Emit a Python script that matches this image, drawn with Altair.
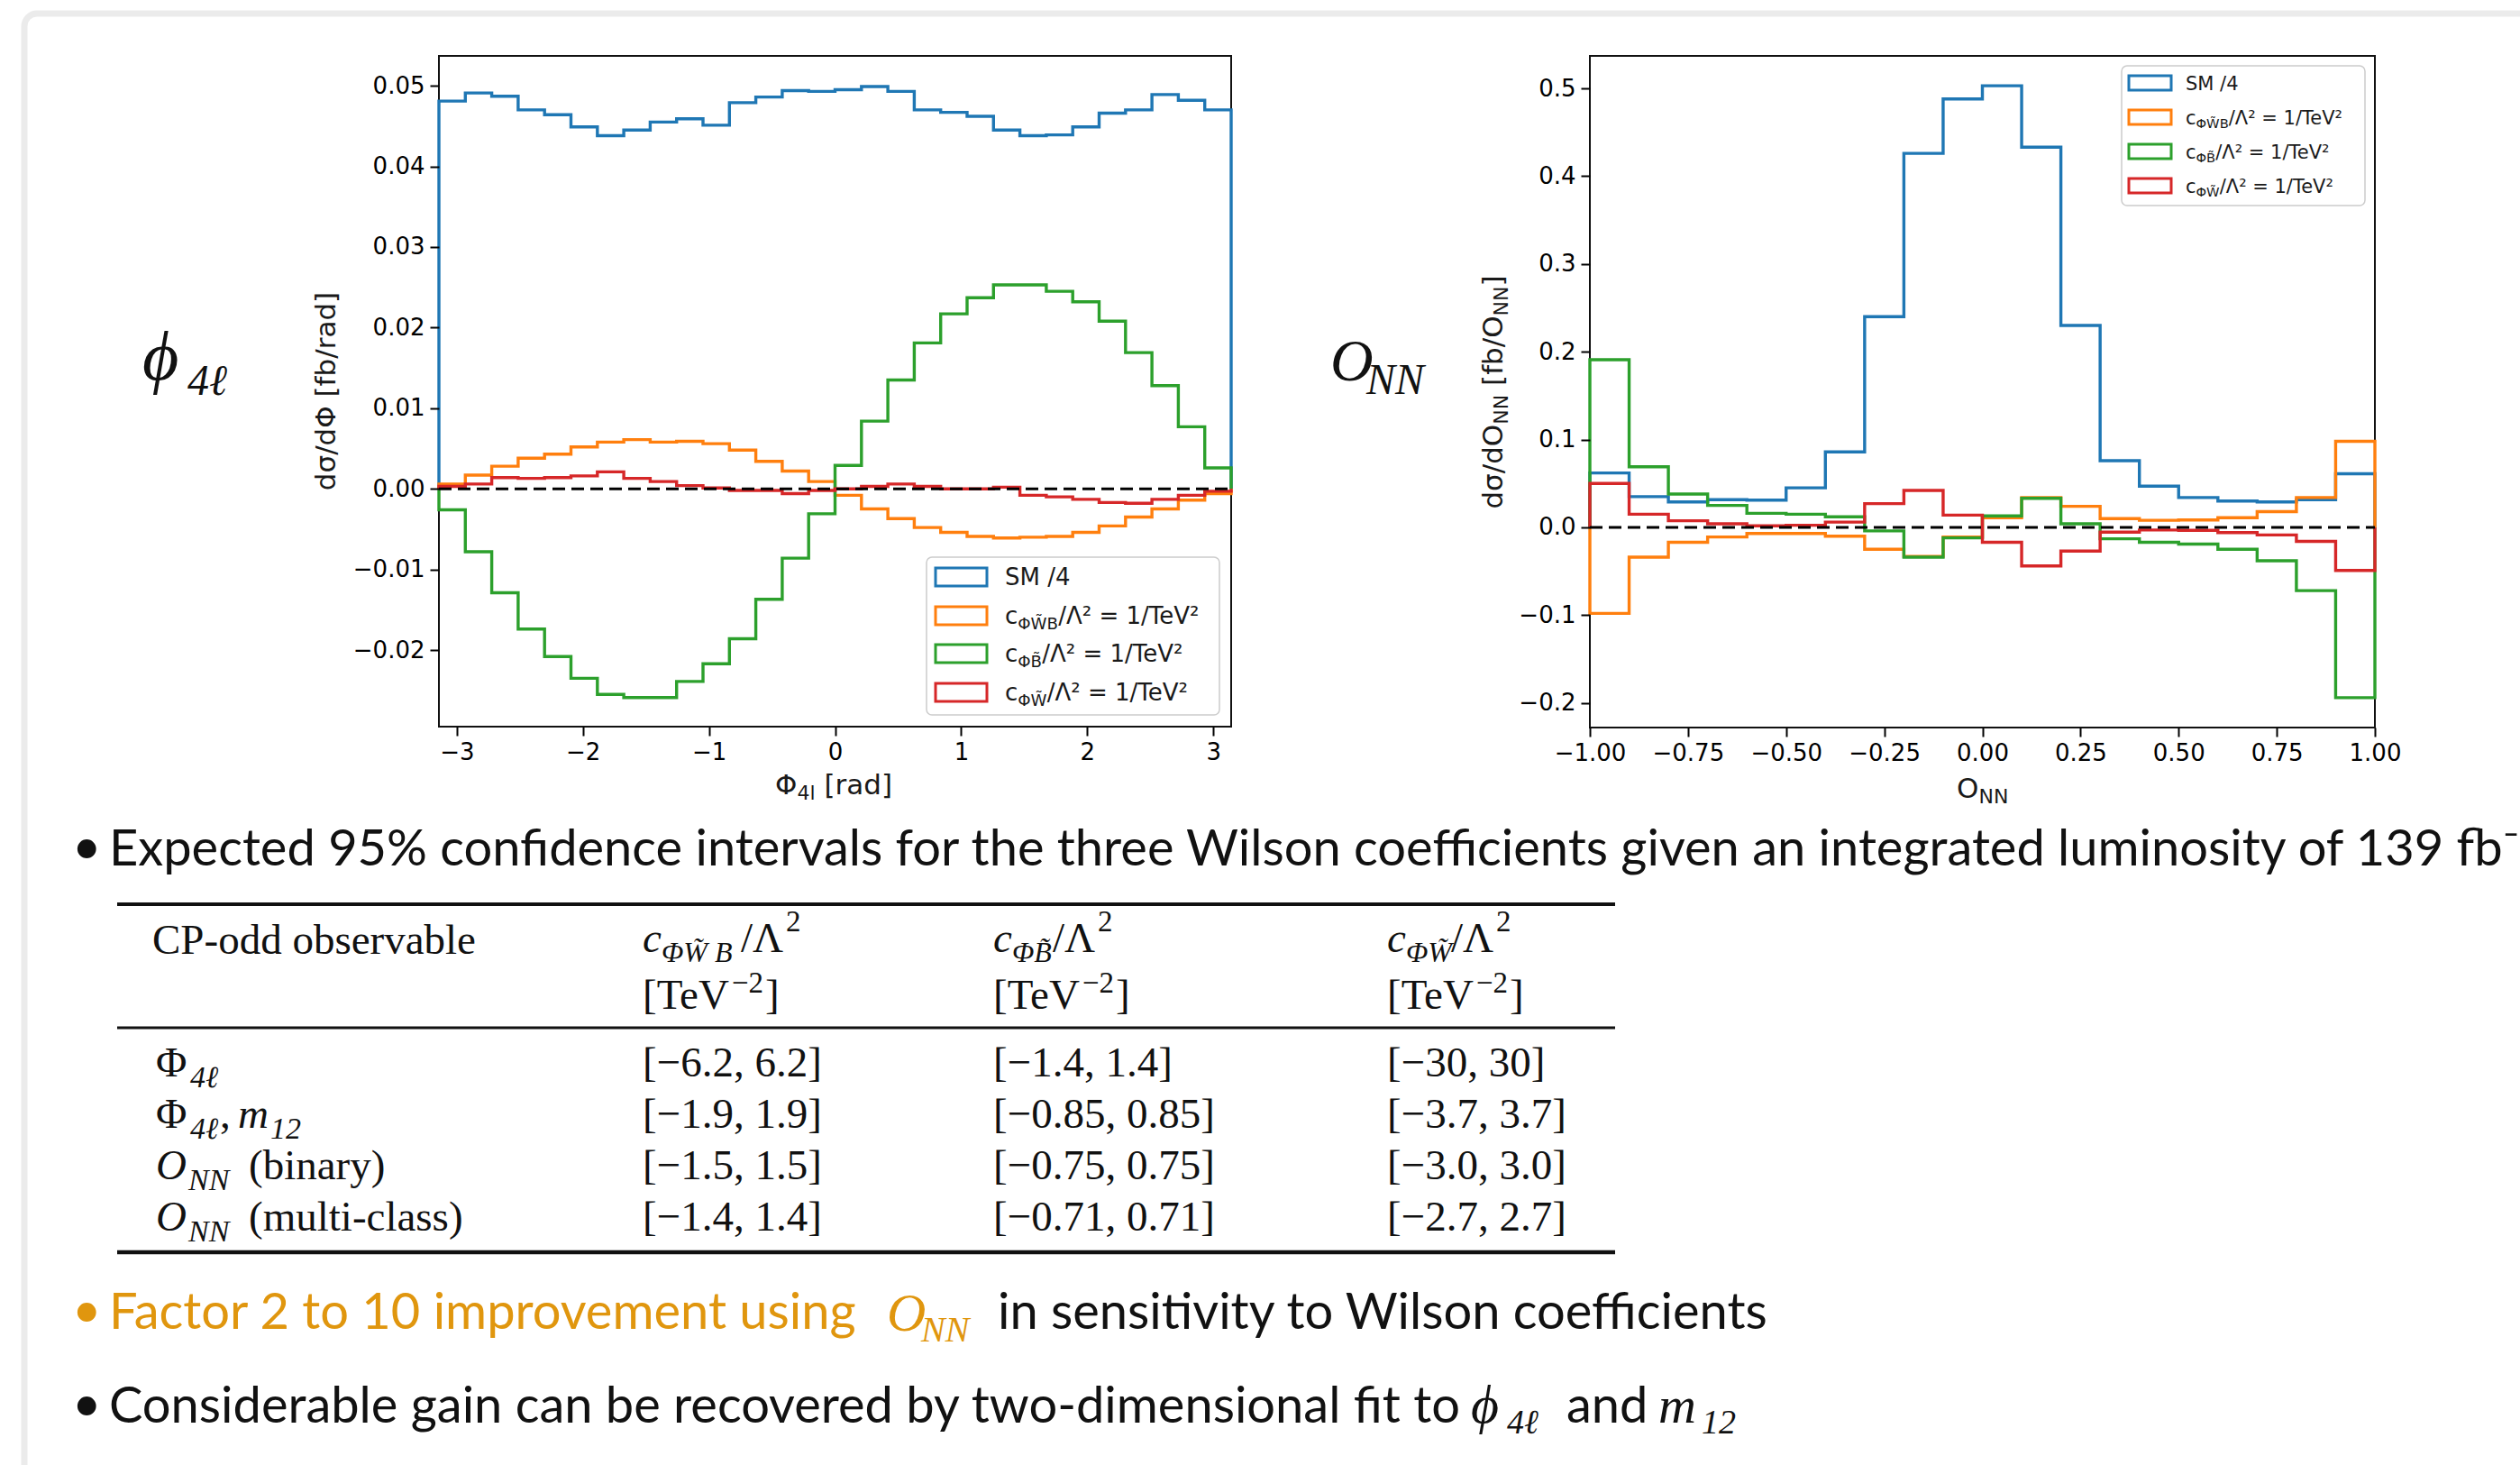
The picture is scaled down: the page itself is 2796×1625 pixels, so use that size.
import numpy as np
import pandas as pd
import altair as alt

# ---------------------------------------------------------------------------
# Histogram contents (differential cross sections, step histograms)
# ---------------------------------------------------------------------------
# Phi_4l : 30 equal bins on [-pi, pi]
phi_lo, phi_hi, phi_nbins = -np.pi, np.pi, 30
phi_sm_over4 = [0.0481, 0.0491, 0.0487, 0.0470, 0.0464, 0.0449, 0.0438, 0.0445, 0.0455, 0.0459,
                0.0451, 0.0479, 0.0486, 0.0494, 0.0493, 0.0495, 0.0499, 0.0493, 0.0470, 0.0467,
                0.0462, 0.0445, 0.0438, 0.0439, 0.0449, 0.0466, 0.0470, 0.0489, 0.0482, 0.0470]
phi_c_wtb = [0.0006, 0.0017, 0.0028, 0.0038, 0.0043, 0.0052, 0.0058, 0.0061, 0.0058, 0.0059,
             0.0056, 0.0048, 0.0034, 0.0022, 0.0009, -0.0008, -0.0025, -0.0037, -0.0048, -0.0054,
             -0.0059, -0.0061, -0.0060, -0.0059, -0.0054, -0.0046, -0.0035, -0.0025, -0.0014, -0.0006]
phi_c_bt = [-0.0026, -0.0078, -0.0129, -0.0174, -0.0208, -0.0235, -0.0255, -0.0259, -0.0259, -0.0239,
            -0.0217, -0.0186, -0.0137, -0.0086, -0.0031, 0.0029, 0.0084, 0.0135, 0.0181, 0.0217,
            0.0237, 0.0253, 0.0253, 0.0245, 0.0232, 0.0208, 0.0169, 0.0128, 0.0077, 0.0026]
phi_c_wt = [0.0003, 0.0006, 0.0014, 0.0013, 0.0014, 0.0016, 0.0021, 0.0013, 0.0009, 0.0004,
            0.0001, -0.0002, -0.0002, -0.0006, -0.0002, 0.0000, 0.0003, 0.0006, 0.0003, 0.0000,
            0.0000, 0.0002, -0.0008, -0.0010, -0.0013, -0.0017, -0.0018, -0.0013, -0.0008, -0.0003]

# O_NN : 20 equal bins on [-1, 1]
onn_lo, onn_hi, onn_nbins = -1.0, 1.0, 20
onn_sm_over4 = [0.062, 0.035, 0.029, 0.0315, 0.031, 0.045, 0.086, 0.240, 0.426, 0.488,
                0.503, 0.433, 0.230, 0.076, 0.047, 0.034, 0.030, 0.029, 0.0315, 0.061]
onn_c_wtb = [-0.098, -0.034, -0.017, -0.011, -0.007, -0.007, -0.010, -0.025, -0.033, -0.011,
             0.011, 0.034, 0.024, 0.010, 0.008, 0.0085, 0.011, 0.018, 0.034, 0.098]
onn_c_bt = [0.191, 0.069, 0.038, 0.025, 0.016, 0.015, 0.012, -0.004, -0.034, -0.012,
            0.013, 0.033, 0.004, -0.013, -0.017, -0.019, -0.025, -0.038, -0.072, -0.194]
onn_c_wt = [0.050, 0.015, 0.0075, 0.004, 0.0017, 0.0024, 0.006, 0.027, 0.042, 0.014,
            -0.017, -0.044, -0.027, -0.0055, -0.003, -0.0034, -0.006, -0.0086, -0.016, -0.049]

series_keys = ["sm", "c_wtb", "c_bt", "c_wt"]
series_colors = ["#1f77b4", "#ff7f0e", "#2ca02c", "#d62728"]
sm_label = "SM /4"
coef_subscripts = ["ΦW\u0303B", "ΦB\u0303", "ΦW\u0303"]
coef_tail = "/Λ² = 1/TeV²"

# axis ticks
phi_xticks = [-3, -2, -1, 0, 1, 2, 3]
phi_yticks = [-0.02, -0.01, 0.0, 0.01, 0.02, 0.03, 0.04, 0.05]
onn_xticks = [-1.0, -0.75, -0.5, -0.25, 0.0, 0.25, 0.5, 0.75, 1.0]
onn_yticks = [-0.2, -0.1, 0.0, 0.1, 0.2, 0.3, 0.4, 0.5]

# expected 95% CL intervals
table_columns = ["ΦW\u0303 B", "ΦB\u0303", "ΦW\u0303"]
limits_c_wtb = ["6.2", "1.9", "1.5", "1.4"]
limits_c_bt = ["1.4", "0.85", "0.75", "0.71"]
limits_c_wt = ["30", "3.7", "3.0", "2.7"]

bullet_1 = ("Expected 95% confidence intervals for the three Wilson coefficients "
            "given an integrated luminosity of 139 fb⁻¹")
bullet_2a = "Factor 2 to 10 improvement using"
bullet_2b = "in sensitivity to Wilson coefficients"
bullet_3a = "Considerable gain can be recovered by two-dimensional fit to"

# ---------------------------------------------------------------------------
# Styling
# ---------------------------------------------------------------------------
W, H = 2796, 1625
PLOT_FONT = "DejaVu Sans"
SLIDE_FONT = "Lato"
SLIDE_SIZE = 56
SERIF = "Liberation Serif, DejaVu Serif, serif"
INK = "#111111"
ACCENT = "#E0960E"


def step_frame(lo, hi, nbins, series, xname, yname):
    edges = np.linspace(lo, hi, nbins + 1)
    parts = []
    for key, values in zip(series_keys, series):
        xs = [edges[0]] + list(edges[:-1]) + [edges[-1], edges[-1]]
        ys = [0.0] + list(values) + [values[-1], 0.0]
        parts.append(pd.DataFrame({xname: xs, yname: ys, "i": np.arange(len(xs)), "series": key}))
    return pd.concat(parts, ignore_index=True)


def one_row():
    return pd.DataFrame({"k": [0]})


def txt(s, x, y, size, font, color=INK, style="normal", align="left",
        baseline="alphabetic", angle=None):
    kw = dict(align=align, baseline=baseline, font=font, fontSize=size,
              color=color, fontStyle=style)
    if angle is not None:
        kw["angle"] = angle
    return alt.Chart(pd.DataFrame({"t": [s]})).mark_text(**kw).encode(
        x=alt.value(x), y=alt.value(y), text="t:N")


def hrule(x1, x2, y, width, color=INK):
    return alt.Chart(one_row()).mark_rule(color=color, strokeWidth=width).encode(
        x=alt.value(x1), x2=alt.value(x2), y=alt.value(y))


def box(x1, y1, x2, y2, stroke, width, fill="transparent", fill_opacity=1.0, radius=0):
    kw = dict(stroke=stroke, strokeWidth=width, fill=fill, fillOpacity=fill_opacity)
    if radius:
        kw["cornerRadius"] = radius
    return alt.Chart(one_row()).mark_rect(**kw).encode(
        x=alt.value(x1), x2=alt.value(x2), y=alt.value(y1), y2=alt.value(y2))


def hist_panel(lo, hi, nbins, series, xfield, yfield, ydom, xpix, ypix,
               xticks, xfmt, yticks, yfmt):
    xs = alt.Scale(domain=[lo, hi], range=list(xpix), nice=False, zero=False)
    ys = alt.Scale(domain=list(ydom), range=[ypix[1], ypix[0]], nice=False, zero=False)
    common = dict(title=None, domain=False, grid=False, ticks=True, labels=True,
                  tickSize=10, tickWidth=2, tickColor="black", labelFont=PLOT_FONT,
                  labelFontSize=26, labelColor="black", labelFlush=False,
                  labelOverlap=False, labelBound=False, zindex=2)
    xaxis = alt.Axis(orient="bottom", offset=-(H - ypix[1]), values=xticks, format=xfmt,
                     labelPadding=5, **common)
    yaxis = alt.Axis(orient="left", offset=-xpix[0], values=yticks, format=yfmt,
                     labelPadding=6, **common)

    df = step_frame(lo, hi, nbins, series, xfield, yfield)
    lines = alt.Chart(df).mark_line(interpolate="step-after", strokeWidth=3.4).encode(
        x=alt.X(f"{xfield}:Q", scale=xs, axis=xaxis),
        y=alt.Y(f"{yfield}:Q", scale=ys, axis=yaxis),
        color=alt.Color("series:N", scale=alt.Scale(domain=series_keys, range=series_colors),
                        legend=None),
        order=alt.Order("i:Q"))

    bounds = pd.DataFrame({"x0": [lo], "x1": [hi], "y0": [ydom[0]], "y1": [ydom[1]], "z": [0.0]})
    frame = alt.Chart(bounds).mark_rect(filled=False, stroke="#111111", strokeWidth=2).encode(
        x=alt.X("x0:Q", scale=xs, axis=xaxis), x2="x1:Q",
        y=alt.Y("y0:Q", scale=ys, axis=yaxis), y2="y1:Q")
    zero = alt.Chart(bounds).mark_rule(color="black", strokeWidth=3, strokeDash=[14, 7]).encode(
        x=alt.X("x0:Q", scale=xs, axis=xaxis), x2="x1:Q",
        y=alt.Y("z:Q", scale=ys, axis=yaxis))
    return alt.layer(frame, lines, zero)


def legend(x1, y1, x2, y2, centers, px1, px2, ph, tx, fs):
    items = [box(x1, y1, x2, y2, "#cccccc", 1.5, fill="white", fill_opacity=0.8, radius=6)]
    adv = {"Φ": 0.790, "W": 0.989, "B": 0.686, "\u0303": 0.0}
    for k, cy in enumerate(centers):
        items.append(box(px1, cy - ph / 2, px2, cy + ph / 2, series_colors[k], 3))
        base = cy + 0.36 * fs
        if k == 0:
            items.append(txt(sm_label, tx, base, fs, PLOT_FONT, color="#1a1a1a"))
        else:
            sub = coef_subscripts[k - 1]
            sfs = 0.7 * fs
            sx = tx + 0.55 * fs
            items.append(txt("c", tx, base, fs, PLOT_FONT, color="#1a1a1a"))
            items.append(txt(sub, sx, base + 0.2 * fs, sfs, PLOT_FONT, color="#1a1a1a"))
            items.append(txt(coef_tail, sx + sum(adv[c] for c in sub) * sfs, base, fs,
                             PLOT_FONT, color="#1a1a1a"))
    return items


# ---------------------------------------------------------------------------
# Panels
# ---------------------------------------------------------------------------
left = hist_panel(phi_lo, phi_hi, phi_nbins,
                  [phi_sm_over4, phi_c_wtb, phi_c_bt, phi_c_wt], "phi", "dsig_phi",
                  (-0.0295, 0.0537), (487, 1366), (62, 806),
                  phi_xticks, "d", phi_yticks, ".2f")
right = hist_panel(onn_lo, onn_hi, onn_nbins,
                   [onn_sm_over4, onn_c_wtb, onn_c_bt, onn_c_wt], "onn", "dsig_onn",
                   (-0.228, 0.537), (1764, 2635), (62, 807),
                   onn_xticks, ".2f", onn_yticks, ".1f")

annotations = []
# slide frame
annotations.append(box(27, 15, W + 60, H + 60, "#ebebeb", 7, radius=14))

# axis titles (with sub-scripted pieces)
annotations.append(txt("dσ/dΦ [fb/rad]", 372, 434, 31, PLOT_FONT, color="#1a1a1a",
                       align="center", angle=270))
annotations += [
    txt("Φ", 860, 881, 31, PLOT_FONT, color="#1a1a1a"),
    txt("4l", 884.5, 887, 22, PLOT_FONT, color="#1a1a1a"),
    txt("[rad]", 914.5, 881, 31, PLOT_FONT, color="#1a1a1a"),
    txt("O", 2171, 885, 31, PLOT_FONT, color="#1a1a1a"),
    txt("NN", 2195.5, 891, 22, PLOT_FONT, color="#1a1a1a"),
]
for piece, y0, size, bx in [("dσ/dO", 564.6, 31, 1667), ("NN", 470.7, 22, 1673),
                            ("[fb/O", 427.9, 31, 1667), ("NN", 350.4, 22, 1673),
                            ("]", 317.5, 31, 1667)]:
    annotations.append(txt(piece, bx, y0, size, PLOT_FONT, color="#1a1a1a", angle=270))

# legends inside the panels
annotations += legend(1028, 618, 1353, 793, [640, 683, 725, 768], 1038, 1095, 20, 1115, 26)
annotations += legend(2354, 73, 2624, 228, [92, 130, 168, 206], 2362, 2409, 16, 2425, 21)

# observable names beside the panels
annotations += [
    txt("ϕ", 158, 421, 78, SERIF, style="italic"),
    txt("4ℓ", 208, 438, 48, SERIF, style="italic"),
    txt("O", 1476, 422, 66, SERIF, style="italic"),
    txt("NN", 1516, 437, 48, SERIF, style="italic"),
]

# first bullet
annotations += [
    txt("•", 80, 958, SLIDE_SIZE, SLIDE_FONT),
    txt(bullet_1, 121, 960, SLIDE_SIZE, SLIDE_FONT),
]

# results table
annotations += [hrule(130, 1792, 1003, 4), hrule(130, 1792, 1140, 3), hrule(130, 1792, 1389, 4.5)]
annotations.append(txt("CP-odd observable", 169, 1058, 47, SERIF))
col_x = [713, 1102, 1539]
slash_dx = [109, 66, 71]
for x0, sub, dx in zip(col_x, table_columns, slash_dx):
    annotations += [
        txt("c", x0, 1056, 47, SERIF, style="italic"),
        txt(sub, x0 + 21, 1067, 32, SERIF, style="italic"),
        txt("/Λ", x0 + dx, 1056, 47, SERIF),
        txt("2", x0 + dx + 50, 1033, 33, SERIF),
        txt("[TeV", x0, 1119, 47, SERIF),
        txt("−2", x0 + 99, 1101, 33, SERIF),
        txt("]", x0 + 136, 1119, 47, SERIF),
    ]
row_base = [1194, 1251, 1308, 1365]
annotations += [
    txt("Φ", 173, row_base[0], 47, SERIF),
    txt("4ℓ", 211, row_base[0] + 12, 34, SERIF, style="italic"),
    txt("Φ", 173, row_base[1], 47, SERIF),
    txt("4ℓ", 211, row_base[1] + 12, 34, SERIF, style="italic"),
    txt(",", 244, row_base[1], 47, SERIF),
    txt("m", 264, row_base[1], 47, SERIF, style="italic"),
    txt("12", 300, row_base[1] + 12, 34, SERIF, style="italic"),
    txt("O", 173, row_base[2], 47, SERIF, style="italic"),
    txt("NN", 209, row_base[2] + 12, 34, SERIF, style="italic"),
    txt("(binary)", 276, row_base[2], 47, SERIF),
    txt("O", 173, row_base[3], 47, SERIF, style="italic"),
    txt("NN", 209, row_base[3] + 12, 34, SERIF, style="italic"),
    txt("(multi-class)", 276, row_base[3], 47, SERIF),
]
for x0, lims in zip(col_x, [limits_c_wtb, limits_c_bt, limits_c_wt]):
    for yb, v in zip(row_base, lims):
        annotations.append(txt(f"[−{v}, {v}]", x0, yb, 47, SERIF))

# second bullet
annotations += [
    txt("•", 80, 1472, SLIDE_SIZE, SLIDE_FONT, color=ACCENT),
    txt(bullet_2a, 121, 1474, SLIDE_SIZE, SLIDE_FONT, color=ACCENT),
    txt("O", 984, 1476, 60, SERIF, color=ACCENT, style="italic"),
    txt("NN", 1022, 1488, 40, SERIF, color=ACCENT, style="italic"),
    txt(bullet_2b, 1107, 1474, SLIDE_SIZE, SLIDE_FONT),
]

# third bullet
annotations += [
    txt("•", 80, 1576, SLIDE_SIZE, SLIDE_FONT),
    txt(bullet_3a, 121, 1578, SLIDE_SIZE, SLIDE_FONT),
    txt("ϕ", 1632, 1578, 60, SERIF, style="italic"),
    txt("4ℓ", 1672, 1590, 38, SERIF, style="italic"),
    txt("and", 1738, 1578, SLIDE_SIZE, SLIDE_FONT),
    txt("m", 1840, 1578, 58, SERIF, style="italic"),
    txt("12", 1888, 1590, 38, SERIF, style="italic"),
]

chart = (
    alt.layer(annotations[0], left, right, *annotations[1:])
    .resolve_scale(x="independent", y="independent")
    .properties(width=W, height=H, padding=0, background="white",
                autosize=alt.AutoSizeParams(type="none"))
    .configure_view(stroke=None)
)

chart.save("out.html", embed_options={"renderer": "svg", "actions": False})
